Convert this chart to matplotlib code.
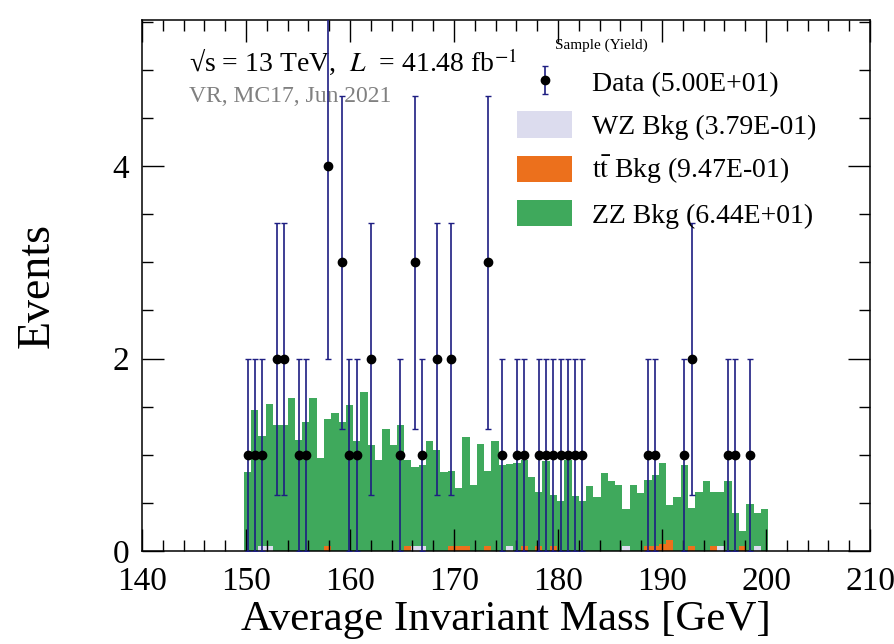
import numpy as np
import matplotlib
matplotlib.use('Agg')
import matplotlib.pyplot as plt
from matplotlib.patches import Patch
from matplotlib.ticker import MultipleLocator

matplotlib.rcParams['font.family'] = 'Liberation Serif'
matplotlib.rcParams['mathtext.fontset'] = 'stix'
matplotlib.rcParams['axes.linewidth'] = 1.1

# histogram binning: 100 bins over 140-210 GeV
x_lo, x_hi, n_bins = 140.0, 210.0, 100

# ZZ background, bins 14..85
zz_first_bin = 14
zz_vals = [0.82, 1.47, 1.20, 1.53, 1.31, 1.31, 1.59, 1.15, 1.34, 1.59,
           0.97, 1.37, 1.43, 1.34, 1.52, 1.14, 1.65, 1.10, 0.95, 1.27,
           1.10, 1.31, 0.95, 0.87, 0.89, 1.14, 1.05, 0.82, 0.83, 0.66,
           1.19, 0.69, 1.11, 0.83, 1.14, 0.89, 0.90, 0.91, 0.95, 0.77,
           0.61, 0.94, 0.58, 0.52, 0.95, 0.57, 0.52, 0.68, 0.56, 0.81,
           0.73, 0.69, 0.44, 0.69, 0.60, 0.74, 0.79, 0.91, 0.48, 0.56,
           0.89, 0.45, 0.61, 0.73, 0.61, 0.61, 0.73, 0.40, 0.21, 0.49,
           0.40, 0.44]

# ttbar background
tt_bins = [25, 36, 42, 43, 44, 47, 52, 54, 56, 69, 70, 71, 72, 75, 78, 82]
tt_vals = [0.055, 0.055, 0.055, 0.055, 0.055, 0.055, 0.055, 0.055,
           0.055, 0.055, 0.055, 0.07, 0.11, 0.055, 0.055, 0.055]

# WZ background
wz_bins = [16, 17, 37, 38, 50, 66, 79, 84]
wz_vals = [0.047, 0.047, 0.047, 0.047, 0.048, 0.048, 0.048, 0.047]

# data
data_bins = [14, 15, 16, 21, 22, 28, 29, 35, 38, 49, 51, 52, 54, 55, 56,
             57, 58, 59, 60, 69, 70, 74, 80, 81, 83,
             18, 19, 31, 40, 42, 75,
             27, 37, 47,
             25]
data_counts = [1] * 25 + [2] * 6 + [3] * 3 + [4]

edges = np.linspace(x_lo, x_hi, n_bins + 1)
centers = 0.5 * (edges[:-1] + edges[1:])

zz = np.zeros(n_bins)
zz[zz_first_bin:zz_first_bin + len(zz_vals)] = zz_vals
tt = np.zeros(n_bins)
tt[tt_bins] = tt_vals
wz = np.zeros(n_bins)
wz[wz_bins] = wz_vals

c_zz = '#3fa95c'
c_tt = '#ec701c'
c_wz = '#dcdcee'
c_err = '#1e1e82'

fig = plt.figure(figsize=(8.94, 6.44), dpi=100)
ax = fig.add_axes([0.1588, 0.1444, 0.8144, 0.8246])

ax.stairs(zz, edges, fill=True, color=c_zz, lw=0)
ax.stairs(tt, edges, fill=True, color=c_tt, lw=0)
ax.stairs(wz, edges, fill=True, color=c_wz, lw=0)

dx = centers[data_bins]
dy = np.array(data_counts, dtype=float)
eb = ax.errorbar(dx, dy, yerr=np.sqrt(dy), fmt='o', color='black', ms=6,
                 ecolor=c_err, elinewidth=1.2, capsize=2.5, capthick=1.0,
                 zorder=5)

ax.set_xlim(x_lo, x_hi)
ax.set_ylim(0, 5.52)
ax.xaxis.set_major_locator(MultipleLocator(10))
ax.xaxis.set_minor_locator(MultipleLocator(2))
ax.yaxis.set_major_locator(MultipleLocator(2))
ax.yaxis.set_minor_locator(MultipleLocator(0.5))
ax.tick_params(which='both', direction='in', top=True, right=True,
               labelsize=24, width=1.0)
ax.tick_params(which='major', length=16)
ax.tick_params(which='minor', length=8)
ax.tick_params(axis='x', pad=11)
ax.tick_params(axis='y', pad=9)

ax.set_xlabel('Average Invariant Mass [GeV]', fontsize=31, labelpad=3)
ax.set_ylabel('Events', fontsize=33, labelpad=39)

ax.text(0.065, 0.905, '\u221as = 13 TeV,  $L$  = 41.48 fb$^{-1}$',
        transform=ax.transAxes, fontsize=20)
ax.text(0.065, 0.845, 'VR, MC17, Jun 2021', transform=ax.transAxes,
        fontsize=17, color='#808080')
ax.text(0.567, 0.953, 'Sample (Yield)', transform=ax.transAxes,
        fontsize=11, va='center')

handles = [eb,
           Patch(facecolor=c_wz, edgecolor='none'),
           Patch(facecolor=c_tt, edgecolor='none'),
           Patch(facecolor=c_zz, edgecolor='none')]
labels = ['Data (5.00E+01)', 'WZ Bkg (3.79E-01)',
          r't$\bar{\rm t}$ Bkg (9.47E-01)', 'ZZ Bkg (6.44E+01)']
ax.legend(handles, labels, loc='upper left', bbox_to_anchor=(0.515, 0.908),
          frameon=False, fontsize=20, borderpad=0, borderaxespad=0,
          handlelength=2.0, handleheight=1.08, handletextpad=0.7,
          labelspacing=0.5)

fig.savefig('out.png', dpi=100)
